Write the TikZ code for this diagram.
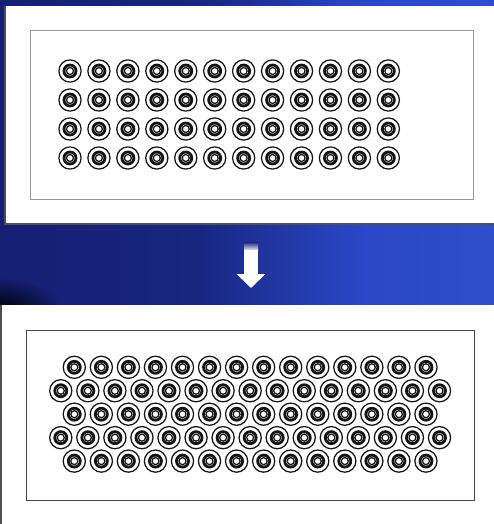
\documentclass[tikz,border=0pt]{standalone}
\usetikzlibrary{arrows.meta,fadings}
\definecolor{bgnavy}{RGB}{17,24,96}
\definecolor{bgmid}{RGB}{24,38,128}
\definecolor{bgblue}{RGB}{42,72,200}
\definecolor{bglight}{RGB}{52,90,216}
\definecolor{edgegrey}{RGB}{80,80,80}
\definecolor{framelight}{RGB}{150,150,150}
\definecolor{framedark}{RGB}{70,70,70}
\definecolor{ringink}{RGB}{20,20,20}
\pgfdeclarehorizontalshading{bandshade}{100bp}{color(0bp)=(bgnavy); color(45bp)=(bgmid); color(62bp)=(bgblue); color(100bp)=(bglight)}
\tikzfading[name=blobfade, inner color=transparent!0, outer color=transparent!100]
\tikzset{
  panel/.style={fill=white},
  edge/.style={draw=edgegrey, line width=1.2pt},
  frameA/.style={draw=framelight, line width=1pt},
  frameB/.style={draw=framedark, line width=1pt},
  ringthin/.style={draw=ringink, line width=1.25pt},
  ringthick/.style={draw=ringink, line width=2.8pt},
  blockarr/.style={draw=white, line width=14pt, -{Triangle[width=28pt, length=14pt]}},
  cell/.pic={
    \draw[ringthin] (0,0) circle (11.1pt);
    \draw[ringthick] (0,0) circle (6.0pt);
    \draw[ringthin] (0,0) circle (3.5pt);
  }
}
\begin{document}
\begin{tikzpicture}[x=1pt, y=-1pt]
  \useasboundingbox (0,0) rectangle (494,524);
  \shade[shading=bandshade] (0,0) rectangle (494,305);
  \begin{scope}
    \clip (0,224) rectangle (494,305);
    \fill[black, opacity=0.9, path fading=blobfade] (0,308) ellipse (60pt and 30pt);
  \end{scope}

  % before
  \fill[panel] (5,6) rectangle (494,224);
  \draw[edge] (5,6) -- (5,224) -- (494,224);
  \draw[frameA] (30,31) rectangle (473,199);
  \foreach \j in {0,...,3}
    \foreach \i in {0,...,11}
      \pic at ({70+28.94*\i}, {71+29*\j}) {cell};

  % arrow
  \coordinate (arrtop) at (251,250);
  \coordinate (arrtip) at (251,288);
  \shade[top color=bgmid, bottom color=white] (244,242) rectangle (258,251);
  \draw[blockarr] (arrtop) -- (arrtip);

  % after
  \fill[panel] (0,305) rectangle (494,524);
  \draw[edge] (1,305) -- (1,524);
  \draw[frameB] (26,330) rectangle (474,500);
  \foreach \j in {0,2,4}
    \foreach \i in {0,...,13}
      \pic at ({74.3+27.05*\i}, {367.3+23.45*\j}) {cell};
  \foreach \j in {1,3}
    \foreach \i in {0,...,14}
      \pic at ({60.8+27.05*\i}, {367.3+23.45*\j}) {cell};
\end{tikzpicture}
\end{document}
